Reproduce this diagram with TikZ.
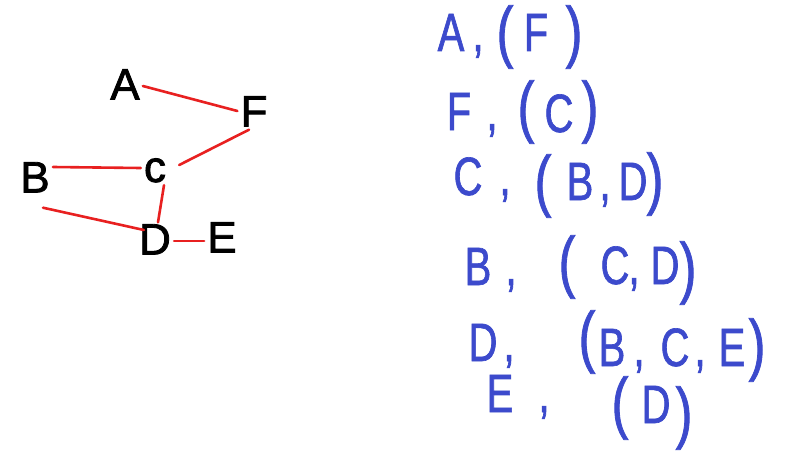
\documentclass[tikz,border=0pt]{standalone}
\usepackage{fontspec}
\setmainfont{Liberation Sans}
\newfontfamily\handfont[FakeStretch=0.74,FakeBold=1.2]{Liberation Sans}
\newfontfamily\graphfont[FakeBold=1.8]{Liberation Sans}
\definecolor{edgered}{RGB}{232,32,32}
\definecolor{listblue}{RGB}{60,74,204}
\begin{document}
\begin{tikzpicture}[x=1pt,y=-1pt,
  gnode/.style={font=\graphfont\fontsize{44}{44}\selectfont, text height=31pt, text depth=0pt, inner sep=3pt},
  gedge/.style={edgered, line width=2.6pt, line cap=round},
  lst/.style={listblue, font=\handfont\fontsize{54}{54}\selectfont, anchor=base, inner sep=0pt},
  par/.style={listblue, font=\handfont\fontsize{68}{68}\selectfont, anchor=center, inner sep=0pt}]
\fill[white] (0,0) rectangle (810,460);
\useasboundingbox (0,0) rectangle (810,460);
% graph
\node[gnode] (A) at (125,84) {A};
\node[gnode] (F) at (254,111) {F};
\node[gnode] (B) at (35,177) {B};
\node[gnode, text height=22pt] (C) at (155,171) {c};
\node[gnode] (D) at (155,239) {D};
\node[gnode] (E) at (222,237) {E};
\draw[gedge] ([yshift=-2pt]A.east) -- ([yshift=0pt]F.west);
\draw[gedge] ([xshift=-5pt]F.south) -- ([xshift=10pt,yshift=6pt]C.east);
\draw[gedge] ([yshift=10pt]B.east) -- ([yshift=3pt]C.west);
\draw[gedge] ([xshift=9pt]C.south) -- ([xshift=3pt,yshift=-2pt]D.north);
\draw[gedge] ([xshift=8pt,yshift=-12pt]B.south) -- ([xshift=8pt,yshift=9pt]D.west);
\draw[gedge] ([yshift=-2pt]D.east) -- ([yshift=-4pt]E.west);
% adjacency list
\node[lst] (a1) at (451,51) {A};
\node[lst] (a2) at (478,51) {,};
\node[par] (a3) at (505,37) {(};
\node[lst] (a4) at (536,51) {F};
\node[par] (a5) at (574,37) {)};
%
\node[lst] (f1) at (459,130) {F};
\node[lst] (f2) at (492,130) {,};
\node[par] (f3) at (526,112) {(};
\node[lst] (f4) at (559,132) {C};
\node[par] (f5) at (590,112) {)};
%
\node[lst] (c1) at (468,195) {C};
\node[lst] (c2) at (505,195) {,};
\node[par] (c3) at (543,186) {(};
\node[lst] (c4) at (580,200) {B};
\node[lst] (c5) at (605,200) {,};
\node[lst] (c6) at (633,200) {D};
\node[par] (c7) at (655,184) {)};
%
\node[lst] (b1) at (478,285) {B};
\node[lst] (b2) at (511,285) {,};
\node[par] (b3) at (567,267) {(};
\node[lst] (b4) at (615,284) {C};
\node[lst] (b5) at (634,284) {,};
\node[lst] (b6) at (665,284) {D};
\node[par] (b7) at (688,273) {)};
%
\node[lst] (d1) at (483,361) {D};
\node[lst] (d2) at (509,361) {,};
\node[par] (d3) at (587,342) {(};
\node[lst] (d4) at (612,366) {B};
\node[lst] (d5) at (639,366) {,};
\node[lst] (d6) at (675,366) {C};
\node[lst] (d7) at (700,366) {,};
\node[lst] (d8) at (732,366) {E};
\node[par] (d9) at (757,350) {)};
%
\node[lst] (e1) at (500,412) {E};
\node[lst] (e2) at (544,412) {,};
\node[par] (e3) at (620,408) {(};
\node[lst] (e4) at (656,423) {D};
\node[par] (e5) at (684,418) {)};
\end{tikzpicture}
\end{document}
